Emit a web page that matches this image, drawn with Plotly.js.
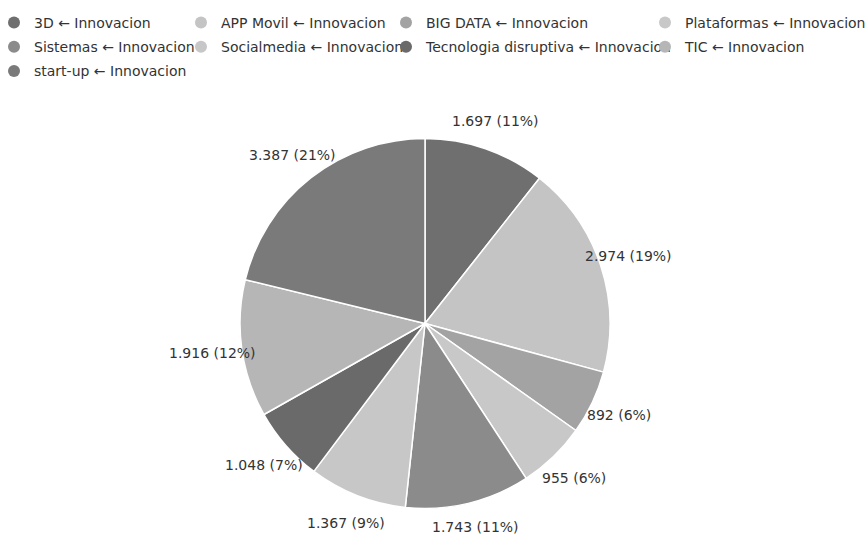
<!DOCTYPE html>
<html>
<head>
<meta charset="utf-8">
<script src="https://cdn.plot.ly/plotly-3.0.1.min.js"></script>
<style>
  html, body { margin: 0; padding: 0; background: #ffffff; }
  #chart { width: 866px; height: 538px; }
</style>
</head>
<body>
<div id="chart"></div>
<script>
// Innovation topics and their counts, clockwise from 12 o'clock
const categories = [
  "3D", "APP Movil", "BIG DATA", "Plataformas", "Sistemas",
  "Socialmedia", "Tecnologia disruptiva", "TIC", "start-up"
];
const values = [1697, 2974, 892, 955, 1743, 1367, 1048, 1916, 3387];
const parentLabel = "Innovacion";
const sliceColors = [
  "#6f6f6f", "#c4c4c4", "#a3a3a3", "#c8c8c8", "#8b8b8b",
  "#c7c7c7", "#6a6a6a", "#b6b6b6", "#7a7a7a"
];

const W = 866, H = 538;
const FONT = "DejaVu Sans, Verdana, sans-serif";
const TEXT_COLOR = "#333333";

// pie placement in pixels: centre and radius
const CX = 425, CY = 323.5, R = 185;
const LABEL_DIST = 1.16;
const LABEL_HALF_HEIGHT = 11;   // keeps the lowest label inside the page

const names = categories.map(c => c + " \u2190 " + parentLabel);
const total = values.reduce((a, b) => a + b, 0);

// the pie itself
const pie = {
  type: "pie",
  labels: names,
  values: values,
  sort: false,
  direction: "clockwise",
  rotation: 0,
  marker: { colors: sliceColors, line: { color: "#ffffff", width: 1.5 } },
  textinfo: "none",
  showlegend: false,
  hoverinfo: "label+value+percent",
  domain: {
    x: [(CX - R) / W, (CX + R) / W],
    y: [(H - CY - R) / H, (H - CY + R) / H]
  }
};

// value labels "1.697 (11%)" centred on each slice's bisector, outside the rim
function fmtThousands(v) {
  return String(v).replace(/\B(?=(\d{3})+(?!\d))/g, ".");
}
let cum = 0;
const sliceLabels = values.map(v => {
  const a = 2 * Math.PI * (cum + v / 2) / total;
  cum += v;
  const px = CX + LABEL_DIST * R * Math.sin(a);
  const py = Math.min(CY - LABEL_DIST * R * Math.cos(a), H - LABEL_HALF_HEIGHT);
  return {
    xref: "paper", yref: "paper",
    x: px / W, y: (H - py) / H,
    xanchor: "center", yanchor: "middle",
    text: fmtThousands(v) + " (" + Math.round(100 * v / total) + "%)",
    showarrow: false,
    font: { family: FONT, size: 14, color: TEXT_COLOR }
  };
});

// legend entries with round markers, laid out in four columns
const legendIds = ["legend", "legend2", "legend3", "legend4"];
const keyTraces = categories.map((c, i) => ({
  type: "scatter",
  mode: "markers",
  x: [null], y: [null],
  name: names[i],
  legend: legendIds[i % 4],
  legendgroup: "g" + i,
  marker: { color: sliceColors[i], size: 12, symbol: "circle", line: { width: 0 } },
  hoverinfo: "skip",
  showlegend: true
}));

function legendAt(px) {
  return {
    x: px / W, y: 1 - 7 / H, xanchor: "left", yanchor: "top",
    orientation: "v",
    bgcolor: "rgba(0,0,0,0)", borderwidth: 0,
    tracegroupgap: 3,
    font: { family: FONT, size: 14, color: TEXT_COLOR },
    itemclick: false, itemdoubleclick: false
  };
}

const layout = {
  width: W, height: H,
  margin: { l: 0, r: 0, t: 0, b: 0, autoexpand: false },
  paper_bgcolor: "#ffffff",
  plot_bgcolor: "#ffffff",
  font: { family: FONT, size: 14, color: TEXT_COLOR },
  xaxis: { visible: false, domain: [0, 0.01] },
  yaxis: { visible: false, domain: [0, 0.01] },
  legend: legendAt(-6),
  legend2: legendAt(181),
  legend3: legendAt(386),
  legend4: legendAt(645),
  annotations: sliceLabels
};

Plotly.newPlot("chart", [pie].concat(keyTraces), layout, { displayModeBar: false, staticPlot: true });
</script>
</body>
</html>
